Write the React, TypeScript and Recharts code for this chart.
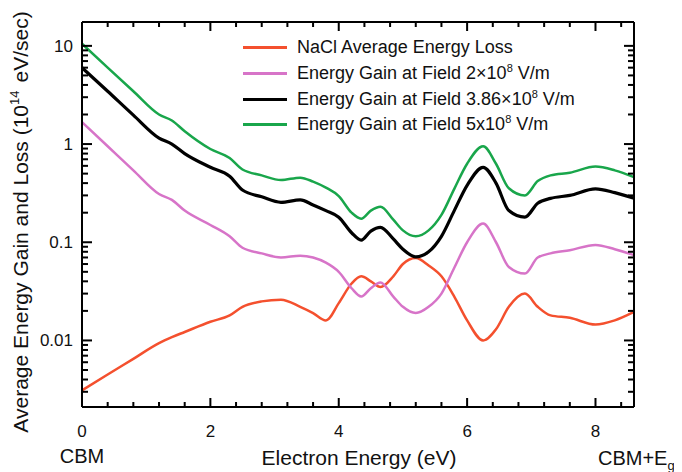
import { LineChart, Line, XAxis, YAxis, Legend } from "recharts";

const FONT = "'Liberation Sans', Arial, Helvetica, sans-serif";

// electron energy (eV) sample points
const energy = [
  0, 0.4, 0.8, 1.2, 1.4, 1.6, 2.0, 2.3, 2.5, 2.8, 3.1, 3.4, 3.6, 3.8, 4.0, 4.2, 4.35, 4.5,
  4.65, 4.85, 5.0, 5.2, 5.4, 5.6, 5.8, 6.0, 6.25, 6.45, 6.65, 6.9, 7.1, 7.3, 7.6, 8.0, 8.3, 8.6,
];

// 10^14 eV/sec
const naclLoss = [
  0.0031, 0.0045, 0.0065, 0.0094, 0.0108, 0.0122, 0.0155, 0.018, 0.022, 0.025, 0.026, 0.022,
  0.019, 0.016, 0.024, 0.038, 0.045, 0.04, 0.035, 0.045, 0.06, 0.069, 0.058, 0.045, 0.028,
  0.016, 0.01, 0.013, 0.022, 0.03, 0.022, 0.018, 0.017, 0.0145, 0.016, 0.0195,
];
const gainField2 = [
  1.67, 0.95, 0.54, 0.31, 0.27, 0.21, 0.15, 0.115, 0.088, 0.077, 0.07, 0.073, 0.07, 0.062,
  0.05, 0.034, 0.028, 0.034, 0.039, 0.028, 0.022, 0.019, 0.022, 0.03, 0.055, 0.1, 0.155, 0.1,
  0.056, 0.048, 0.07, 0.077, 0.083, 0.094, 0.085, 0.074,
];
const gainField386 = [
  6.0, 3.45, 1.97, 1.15, 1.0, 0.8, 0.58, 0.47, 0.34, 0.29, 0.255, 0.27, 0.24, 0.21, 0.18,
  0.125, 0.105, 0.13, 0.142, 0.108, 0.085, 0.071, 0.08, 0.115, 0.21, 0.38, 0.58, 0.4, 0.21,
  0.18, 0.25, 0.28, 0.3, 0.35, 0.32, 0.28,
];
const gainField5 = [
  10.5, 6.0, 3.45, 2.0, 1.74, 1.35, 0.89, 0.72, 0.55, 0.48, 0.43, 0.455, 0.415, 0.36, 0.295,
  0.2, 0.174, 0.21, 0.23, 0.17, 0.132, 0.115, 0.132, 0.19, 0.35, 0.63, 0.95, 0.63, 0.355, 0.3,
  0.42, 0.48, 0.51, 0.59, 0.54, 0.46,
];

const xTicks = [0, 0.4, 0.8, 1.2, 1.6, 2, 2.4, 2.8, 3.2, 3.6, 4, 4.4, 4.8, 5.2, 5.6, 6, 6.4, 6.8, 7.2, 7.6, 8, 8.4];
const xMajor = [0, 2, 4, 6, 8];
const yTicks = [
  0.003, 0.004, 0.005, 0.006, 0.007, 0.008, 0.009,
  0.01, 0.02, 0.03, 0.04, 0.05, 0.06, 0.07, 0.08, 0.09,
  0.1, 0.2, 0.3, 0.4, 0.5, 0.6, 0.7, 0.8, 0.9,
  1, 2, 3, 4, 5, 6, 7, 8, 9, 10,
];
const yMajor = [0.01, 0.1, 1, 10];

const series = [
  { key: "nacl", name: "NaCl Average Energy Loss", color: "#f4502e", width: 2.5 },
  { key: "f2", name: "Energy Gain at Field 2×10^8 V/m", color: "#d774c8", width: 2.5 },
  { key: "f386", name: "Energy Gain at Field 3.86×10^8 V/m", color: "#000000", width: 3.2 },
  { key: "f5", name: "Energy Gain at Field 5x10^8 V/m", color: "#19a64b", width: 2.5 },
];

const data = energy.map((x, i) => ({
  x,
  nacl: naclLoss[i],
  f2: gainField2[i],
  f386: gainField386[i],
  f5: gainField5[i],
}));

// plot box edges
const LEFT = 82;
const RIGHT = 634;
const TOP = 22;
const BOTTOM = 407;

const isMajor = (list: number[], v: number) => list.some((m) => Math.abs(m - v) < 1e-9);

const bottomTick = (p: any) => {
  const major = isMajor(xMajor, p.payload.value);
  const len = major ? 9 : 5;
  return (
    <g>
      <rect x={p.x - 1} y={BOTTOM - len} width={2} height={len} fill="#000" />
      {major && (
        <text x={p.x} y={437} textAnchor="middle" fontSize={17} fontFamily={FONT} fill="#111">
          {p.payload.value}
        </text>
      )}
    </g>
  );
};

const topTick = (p: any) => {
  const len = isMajor(xMajor, p.payload.value) ? 9 : 5;
  return <rect x={p.x - 1} y={TOP} width={2} height={len} fill="#000" />;
};

const leftTick = (p: any) => {
  const major = isMajor(yMajor, p.payload.value);
  return (
    <g>
      <rect x={LEFT} y={p.y - 1} width={major ? 10 : 6} height={2} fill="#000" />
      {major && (
        <text x={73} y={p.y + 6} textAnchor="end" fontSize={17} fontFamily={FONT} fill="#111">
          {p.payload.value}
        </text>
      )}
    </g>
  );
};

const rightTick = (p: any) => {
  const len = isMajor(yMajor, p.payload.value) ? 10 : 6;
  return <rect x={RIGHT - len} y={p.y - 1} width={len} height={2} fill="#000" />;
};

const YTitle = () => (
  <text
    x={28}
    y={222}
    transform="rotate(-90, 28, 222)"
    textAnchor="middle"
    fontSize={21}
    fontFamily={FONT}
    fill="#111"
  >
    Average Energy Gain and Loss (10
    <tspan dy={-9} fontSize={13}>14</tspan>
    <tspan dy={9} dx={8}>eV/sec)</tspan>
  </text>
);

const XTitle = () => (
  <g fontFamily={FONT} fill="#111">
    <text x={359} y={465} textAnchor="middle" fontSize={21}>
      Electron Energy (eV)
    </text>
    <text x={82} y={463} textAnchor="middle" fontSize={20}>
      CBM
    </text>
    <text x={598} y={465} fontSize={20}>
      CBM+E
      <tspan dy={5} fontSize={13}>g</tspan>
    </text>
  </g>
);

const withSup = (s: string) => {
  const m = s.match(/^(.*)\^(\d+)(.*)$/);
  if (!m) return s;
  return (
    <>
      {m[1]}
      <sup style={{ fontSize: 11, lineHeight: 0, verticalAlign: "7px" }}>{m[2]}</sup>
      {m[3]}
    </>
  );
};

const LegendBox = () => (
  <div style={{ fontFamily: FONT, fontSize: 18, color: "#111" }}>
    {series.map((s) => (
      <div key={s.key} style={{ display: "flex", alignItems: "center", height: 25.7, whiteSpace: "nowrap" }}>
        <span style={{ display: "inline-block", width: 44, height: 3, background: s.color, marginRight: 10 }} />
        <span>{withSup(s.name)}</span>
      </div>
    ))}
  </div>
);

export default function App() {
  // plain block, pulled over the body margin
  return (
    <div style={{ marginLeft: -8, marginTop: -8 }}>
      <LineChart width={682} height={472} data={data} margin={{ top: 16, right: 38, bottom: 25, left: 22 }}>
        <XAxis
          dataKey="x"
          type="number"
          domain={[0, 8.6]}
          ticks={xTicks}
          interval={0}
          tickLine={false}
          tick={bottomTick}
          height={40}
          axisLine={{ stroke: "#000", strokeWidth: 2 }}
          label={<XTitle />}
        />
        <XAxis
          xAxisId="t"
          dataKey="x"
          orientation="top"
          type="number"
          domain={[0, 8.6]}
          ticks={xTicks}
          interval={0}
          tickLine={false}
          tick={topTick}
          height={6}
          axisLine={{ stroke: "#000", strokeWidth: 2 }}
        />
        <YAxis
          type="number"
          scale="log"
          domain={[0.0021, 17.5]}
          ticks={yTicks}
          interval={0}
          tickLine={false}
          tick={leftTick}
          width={60}
          axisLine={{ stroke: "#000", strokeWidth: 2 }}
          label={<YTitle />}
        />
        <YAxis
          yAxisId="r"
          orientation="right"
          type="number"
          scale="log"
          domain={[0.0021, 17.5]}
          ticks={yTicks}
          interval={0}
          tickLine={false}
          tick={rightTick}
          width={10}
          axisLine={{ stroke: "#000", strokeWidth: 2 }}
        />
        <Legend
          layout="vertical"
          align="center"
          verticalAlign="middle"
          content={<LegendBox />}
          wrapperStyle={{ top: 35, left: 243, width: "auto" }}
        />
        {series.map((s) => (
          <Line
            key={s.key}
            type="monotone"
            dataKey={s.key}
            name={s.name}
            stroke={s.color}
            strokeWidth={s.width}
            dot={false}
            isAnimationActive={false}
          />
        ))}
        {/* hidden copy tied to the mirrored top/right axes */}
        <Line
          xAxisId="t"
          yAxisId="r"
          dataKey="f5"
          stroke="none"
          dot={false}
          activeDot={false}
          legendType="none"
          isAnimationActive={false}
        />
      </LineChart>
    </div>
  );
}
